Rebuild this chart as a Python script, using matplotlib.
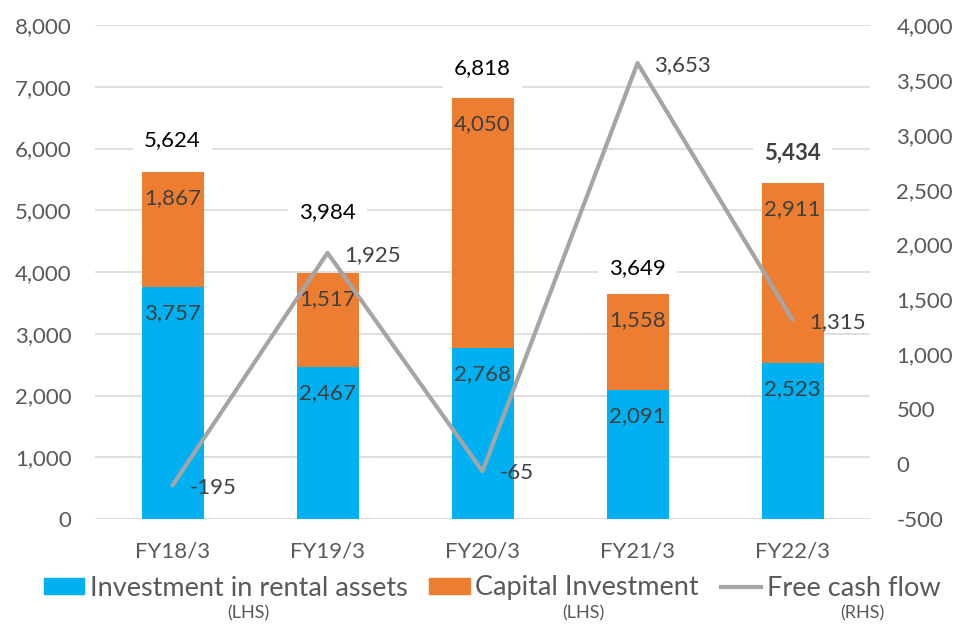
import matplotlib.pyplot as plt
import numpy as np
from matplotlib.patches import Patch
from matplotlib.lines import Line2D

plt.rcParams['font.family'] = ['Lato', 'DejaVu Sans']

years = ['FY18/3', 'FY19/3', 'FY20/3', 'FY21/3', 'FY22/3']
rental = [3757, 2467, 2768, 2091, 2523]
capex = [1867, 1517, 4050, 1558, 2911]
totals = [5624, 3984, 6818, 3649, 5434]
fcf = [-195, 1925, -65, 3653, 1315]

blue = '#00B0F0'
orange = '#ED7D31'
grey = '#A5A5A5'
txt = '#595959'
dark = '#404040'

fig = plt.figure(figsize=(9.6, 6.25), dpi=100)
ax = fig.add_axes([95/960, 1 - 519/625, 775/960, 494/625])
ax2 = ax.twinx()

x = np.arange(len(years))
w = 0.4
ax.bar(x, rental, w, color=blue, zorder=2)
ax.bar(x, capex, w, bottom=rental, color=orange, zorder=2)

ax.set_ylim(0, 8000)
ax.set_yticks(np.arange(0, 8001, 1000))
ax.set_yticklabels([f'{v:,}' for v in range(0, 8001, 1000)])
ax.set_xlim(-0.5, 4.5)
ax.set_xticks(x)
ax.set_xticklabels(years)
ax.grid(axis='y', color='#D9D9D9', lw=1.2, zorder=0)
ax.set_axisbelow(True)

ax2.set_ylim(-500, 4000)
ax2.set_yticks(np.arange(-500, 4001, 500))
ax2.set_yticklabels([f'{v:,}' for v in range(-500, 4001, 500)])
ax2.plot(x, fcf, color=grey, lw=3, solid_capstyle='round', zorder=3)

for a in (ax, ax2):
    for s in a.spines.values():
        s.set_visible(False)
    a.tick_params(length=0, colors=txt, labelsize=16)
ax.tick_params(axis='y', pad=17)
ax.tick_params(axis='x', pad=16)
ax2.tick_params(axis='y', pad=19)

# segment labels, inside end
for i in range(len(years)):
    ax.annotate(f'{rental[i]:,}', (x[i], rental[i]), xytext=(0, -26), textcoords='offset pixels',
                ha='center', va='center', fontsize=16, color=dark, zorder=4)
    ax.annotate(f'{capex[i]:,}', (x[i], totals[i]), xytext=(0, -26), textcoords='offset pixels',
                ha='center', va='center', fontsize=16, color=dark, zorder=4)

# totals
tot_off = [32, 61, 30, 26, 30]
for i in range(len(years)):
    bold = i == len(years) - 1
    ax.annotate(f'{totals[i]:,}', (x[i], totals[i]), xytext=(0, tot_off[i]), textcoords='offset pixels',
                ha='center', va='center', fontsize=16,
                color=dark if bold else 'black', fontweight='bold' if bold else 'normal',
                bbox=dict(boxstyle='square,pad=0.5', fc='white', ec='none'), zorder=4)

# free cash flow labels
for i in range(len(years)):
    ax2.annotate(f'{fcf[i]:,}', (x[i], fcf[i]), xytext=(17, -2), textcoords='offset pixels',
                 ha='left', va='center', fontsize=16, color=dark, zorder=5)

handles = [Patch(color=blue), Patch(color=orange), Line2D([], [], color=grey, lw=3)]
labels = ['Investment in rental assets', 'Capital Investment', 'Free cash flow']
fig.legend(handles, labels, loc='center', bbox_to_anchor=(492/960, 1 - 588/625), ncol=3,
           frameon=False, fontsize=19.5, labelcolor=txt, handlelength=1.5, handleheight=0.55,
           handletextpad=0.2, columnspacing=0.8, borderpad=0)
for xp, t in [(248, '(LHS)'), (583, '(LHS)'), (862, '(RHS)')]:
    fig.text(xp/960, 1 - 613/625, t, ha='center', va='center', fontsize=13, color=txt)

fig.savefig('out.png', dpi=100)
